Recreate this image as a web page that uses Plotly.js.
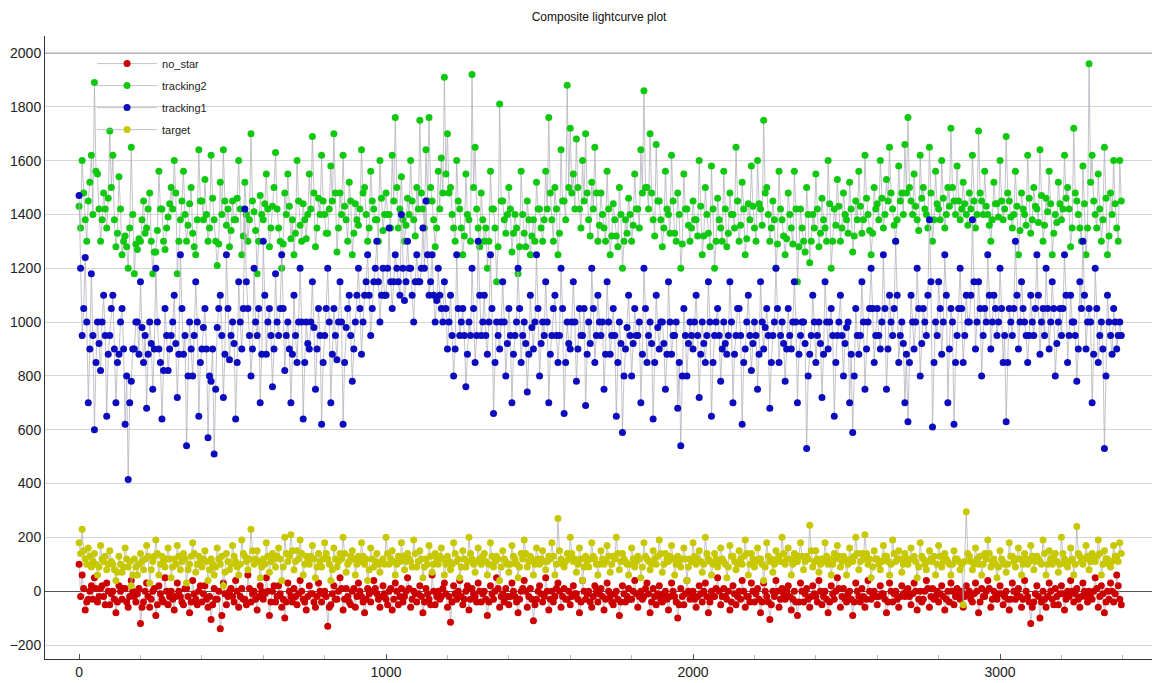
<!DOCTYPE html>
<html>
<head>
<meta charset="utf-8">
<script src="https://cdn.plot.ly/plotly-3.0.1.min.js"></script>
<style>html,body{margin:0;padding:0;background:#fff;}#chart{width:1152px;height:683px;}</style>
</head>
<body>
<div id="chart"></div>
<script>
// Values read (approximately) from the reference picture, one every 5 frames.
const frameStep = 5;

const noStar = [
100,-20,60,10,-70,-40,-30,0,20,-30,50,10,-40,-20,10,20,-20,-50,30,0,
-50,-10,0,-30,-80,-40,20,0,-30,10,10,-40,-60,-20,40,0,-20,-40,-10,10,
-120,-60,-40,0,30,-20,-60,-30,0,10,-90,-50,20,-10,-30,-40,50,0,-50,-20,
0,-30,-70,-20,30,0,-20,-40,-50,10,10,-20,-80,-40,40,-10,-30,-50,0,20,
-40,-10,20,-30,-60,-20,-105,-50,10,-30,-30,0,-140,-90,30,-10,-50,-20,0,10,
-20,-40,40,0,-60,-20,10,-30,-30,-50,60,10,-40,-10,0,-30,-70,-20,20,0,
-30,-10,50,0,-90,-40,0,20,-40,-20,20,-10,-60,-30,-100,-40,30,0,-20,-40,
10,-20,-50,-10,40,0,-30,-40,-70,-20,20,-10,-10,-40,-60,-20,30,0,-40,-10,
0,-20,-130,-60,-50,-10,20,-30,-30,0,50,10,-70,-30,10,-20,-40,-50,0,10,
-60,-20,30,0,-20,-40,-80,-30,10,-10,-40,0,40,10,-10,-30,-60,-20,20,-10,
-30,-50,0,10,-70,-30,30,0,-50,-20,10,-40,-20,0,50,10,-60,-30,0,-10,
-40,-10,20,-20,-80,-40,10,-10,-30,-50,60,0,-50,-20,0,-30,-20,10,30,-10,
-60,-20,-115,-40,20,-10,-30,0,40,-20,-50,-30,0,20,-70,-30,10,-10,-20,-40,
30,0,-40,-10,0,-30,-90,-40,20,-10,-30,0,50,10,-60,-20,-10,-40,10,-20,
-50,-20,30,0,-20,-40,-80,-30,0,10,40,0,-60,-20,10,-30,-110,-50,-30,0,
20,-10,-40,-20,50,0,-70,-30,0,-40,-20,10,30,0,-60,-20,10,-30,-30,0,
-50,-20,20,-10,-10,-30,-80,-40,40,0,-30,-10,0,-40,-60,-20,20,0,-40,-10,
10,-20,-70,-30,30,0,-20,-40,-50,-10,0,-30,-90,-40,20,-10,-40,-20,10,-30,
-30,0,40,-10,-60,-20,0,-30,-20,10,30,-10,-80,-40,10,-20,-50,-10,20,-30,
-40,-10,0,-30,-70,-20,30,0,-20,-40,-100,-50,10,-20,-50,-10,40,0,-30,-10,
0,-30,-60,-20,20,-10,-40,0,30,-20,-80,-40,0,-20,-20,10,50,0,-50,-20,
10,-20,-30,0,-70,-40,20,-10,-50,-20,0,-30,40,0,-60,-20,-20,-40,30,0,
-40,-10,10,-30,-80,-40,30,0,-20,-40,-105,-50,0,-20,40,0,-60,-30,10,-10,
-30,0,20,-20,-70,-30,0,-40,-90,-40,30,0,-40,-10,10,-30,-60,-20,20,-10,
-20,-40,40,0,-50,-20,0,-30,-80,-40,20,-10,-30,0,50,10,-60,-20,10,-30,
-40,-10,0,-30,-90,-40,30,0,-20,-40,10,-20,-60,-30,40,0,-30,-10,0,-20,
-50,-20,20,-10,-10,-30,-80,-40,30,0,-40,-10,0,-30,-60,-20,20,-10,-20,0,
10,-20,-50,-10,30,0,-70,-30,0,-40,-30,0,40,10,-60,-20,10,-30,-20,0,
-40,-10,20,-20,-70,-30,0,-40,30,0,-50,-20,10,-10,-30,0,-60,-20,20,-10,
0,-30,-40,-10,30,0,-80,-40,10,-20,-20,0,40,10,-60,-30,0,-20,-30,-10,
20,-10,-50,-20,0,-30,-70,-30,30,0,-30,-10,10,-20,-60,-30,40,0,-20,-40,
-120,-60,-40,-10,20,-20,-100,-40,0,-30,-60,-20,30,0,-30,-50,10,-20,-50,-10,
20,-10,-70,-30,0,-20,40,0,-40,-10,10,-30,-60,-20,30,0,-20,-40,0,-10,
-30,0,50,10,-60,-20,20,-10,-80,-40,0,-30,30,0,-40,-10,60,20,-30,-50
];

const tracking2 = [
1430,1350,1600,1480,1380,1300,1450,1520,1620,1400,1890,1560,1550,1420,1300,1380,1480,1420,1350,1460,
1710,1500,1620,1380,1280,1330,1540,1420,1250,1300,1320,1280,1200,1350,1650,1400,1180,1290,1270,1310,
1300,1380,1450,1330,1350,1420,1480,1300,1180,1260,1260,1340,1560,1420,1420,1300,1270,1350,1390,1440,
1500,1420,1600,1480,1180,1300,1380,1450,1560,1400,1300,1360,1440,1500,1330,1280,1250,1380,1640,1450,
1450,1380,1530,1400,1300,1350,1620,1460,1380,1300,1210,1290,1520,1400,1640,1450,1360,1420,1280,1340,
1450,1380,1380,1460,1600,1420,1250,1320,1520,1400,1300,1380,1700,1450,1410,1340,1180,1300,1470,1400,
1380,1440,1550,1420,1280,1350,1430,1500,1630,1420,1350,1300,1200,1290,1480,1400,1550,1430,1310,1380,
1250,1330,1600,1450,1360,1300,1440,1380,1310,1400,1550,1420,1690,1480,1280,1350,1460,1400,1620,1450,
1400,1330,1330,1420,1580,1450,1700,1480,1260,1350,1480,1400,1620,1430,1380,1300,1520,1450,1250,1330,
1440,1380,1360,1420,1640,1480,1500,1400,1300,1350,1560,1450,1420,1380,1380,1300,1600,1460,1340,1400,
1480,1400,1400,1350,1620,1450,1760,1500,1350,1420,1540,1380,1300,1360,1460,1400,1600,1450,1380,1320,
1500,1420,1750,1480,1420,1350,1640,1450,1760,1500,1450,1380,1280,1350,1560,1420,1610,1480,1910,1550,
1700,1480,1500,1400,1350,1300,1600,1450,1420,1350,1250,1320,1550,1400,1380,1300,1920,1500,1650,1420,
1350,1280,1480,1380,1300,1350,1200,1300,1560,1420,1420,1350,1150,1280,1810,1450,1450,1380,1330,1400,
1500,1420,1260,1330,1400,1350,1180,1280,1560,1400,1330,1280,1450,1380,1250,1320,1380,1300,1520,1420,
1420,1350,1300,1380,1560,1420,1760,1480,1380,1300,1500,1420,1250,1330,1640,1450,1450,1380,1880,1500,
1720,1480,1550,1420,1680,1500,1420,1350,1600,1450,1700,1480,1380,1320,1520,1420,1650,1480,1300,1360,
1480,1400,1350,1300,1560,1420,1250,1320,1440,1380,1320,1280,1500,1400,1200,1300,1380,1330,1460,1400,
1300,1360,1550,1420,1420,1350,1640,1480,1860,1500,1500,1420,1700,1480,1380,1320,1660,1450,1450,1380,
1280,1350,1560,1420,1400,1330,1620,1450,1330,1300,1480,1400,1200,1290,1550,1420,1420,1360,1300,1350,
1450,1380,1380,1320,1600,1430,1250,1320,1500,1400,1330,1280,1580,1420,1200,1300,1460,1380,1350,1300,
1560,1420,1280,1330,1480,1400,1400,1350,1650,1450,1300,1360,1520,1420,1250,1310,1440,1380,1580,1430,
1350,1300,1600,1440,1420,1360,1750,1480,1500,1400,1300,1350,1450,1380,1200,1290,1560,1420,1380,1320,
1250,1310,1480,1400,1350,1290,1560,1420,1150,1280,1420,1350,1300,1260,1500,1400,1220,1300,1400,1350,
1550,1420,1280,1330,1460,1380,1350,1300,1600,1440,1200,1300,1420,1360,1530,1430,1300,1350,1480,1400,
1380,1330,1520,1420,1260,1320,1450,1380,1560,1430,1330,1380,1620,1460,1400,1340,1250,1330,1500,1420,
1440,1380,1600,1460,1350,1400,1530,1450,1650,1480,1420,1360,1300,1380,1580,1450,1480,1400,1660,1480,
1760,1500,1450,1400,1550,1430,1380,1340,1620,1460,1500,1420,1400,1350,1650,1480,1300,1380,1560,1440,
1420,1380,1600,1460,1350,1400,1500,1430,1720,1500,1450,1400,1580,1450,1380,1420,1520,1440,1400,1360,
1480,1420,1620,1450,1350,1400,1710,1480,1450,1400,1560,1430,1400,1360,1300,1380,1520,1440,1440,1390,
1600,1450,1380,1420,1690,1480,1450,1390,1350,1400,1560,1430,1250,1340,1480,1420,1400,1360,1620,1460,
1330,1380,1500,1430,1420,1370,1640,1470,1300,1360,1460,1410,1560,1440,1250,1330,1400,1370,1520,1440,
1380,1420,1620,1460,1500,1420,1280,1350,1720,1480,1450,1400,1350,1300,1580,1440,1250,1350,1960,1520,
1620,1450,1400,1350,1550,1420,1300,1380,1650,1460,1250,1320,1480,1400,1600,1440,1350,1300,1600,1450
];

const tracking1 = [
1470,1200,950,1050,1240,1000,700,900,1180,950,600,850,1000,920,820,1000,1100,950,650,880,
950,1050,1100,900,700,850,880,1000,1050,900,620,800,415,700,780,900,900,1000,1000,880,
1150,980,850,950,680,880,1000,920,750,900,1200,1000,900,850,640,820,1050,950,820,900,
950,1000,1100,920,720,880,1250,1050,880,950,540,800,1000,900,800,950,1150,1000,650,850,
900,980,1050,900,570,800,780,900,510,750,980,1050,1100,950,720,880,1250,1050,860,950,
1000,920,640,850,1150,1000,900,1050,1420,1150,1050,950,800,900,1200,1000,950,1050,700,880,
1300,1100,880,1000,1050,950,760,900,1180,1000,950,1050,1250,1050,820,950,1000,900,700,880,
1100,950,850,1000,1200,1000,640,850,1000,920,900,1000,1150,980,750,900,1050,950,620,850,
950,1050,1200,1000,700,880,1050,950,860,1000,1150,1000,620,850,980,1050,1100,950,780,900,
1000,1100,1200,1050,880,1000,1100,1150,1250,1100,950,1050,1150,1200,1300,1150,1000,1100,1200,1100,
1100,1200,1350,1150,1050,1150,1250,1200,1150,1100,1400,1200,1080,1150,1300,1200,1200,1100,1000,1150,
1250,1150,1150,1200,1350,1200,1450,1250,1100,1150,1250,1100,1000,1080,1200,1100,1050,1000,1150,1050,
900,1000,1100,950,800,900,1250,1050,950,1000,1050,950,760,880,1000,950,1200,1050,850,950,
1300,1100,950,1000,1100,950,880,1000,1250,1050,660,850,1000,950,900,1000,1150,1000,800,920,
1050,950,700,880,950,1000,1200,1050,850,950,1000,920,740,880,1100,980,900,1000,1250,1050,
800,920,1000,950,1150,1000,700,880,950,1050,1100,950,850,950,1200,1050,660,850,1000,920,
900,1000,1150,1000,780,900,1050,950,950,1050,690,880,1000,920,1200,1050,850,950,1100,1000,
950,1000,750,880,1150,1000,880,950,1050,950,650,850,1000,920,590,800,900,980,1100,950,
800,920,1050,950,950,1000,700,880,1200,1050,850,950,1000,920,640,850,1100,980,900,1000,
1000,920,750,880,1150,1000,880,950,950,1000,680,850,540,800,1050,950,800,920,1000,950,
900,1000,1100,950,720,880,1000,920,850,950,1150,1000,650,850,950,1000,1050,950,780,900,
1000,920,880,950,1150,1000,700,880,950,1050,1050,950,620,850,900,1000,1100,950,820,920,
1000,950,750,880,1150,1000,900,980,1050,950,680,850,950,1000,1200,1050,850,950,1000,920,
780,900,1050,950,900,1000,1150,1000,700,880,950,1000,1000,920,530,800,880,950,1100,1000,
850,950,1000,920,720,880,1150,1000,900,1000,1050,950,650,850,950,1000,1100,950,800,920,
980,1000,700,880,590,800,1050,950,880,950,1150,1000,750,900,1000,1050,1200,1050,850,950,
1050,950,900,1000,1250,1050,750,900,1100,1000,950,1050,1300,1100,850,950,1000,920,700,880,
630,850,1100,1000,900,1000,1200,1050,800,920,1050,1000,950,1100,1380,1150,610,850,1000,950,
1150,1050,880,1000,1250,1100,700,900,1050,1000,620,850,950,1050,1200,1050,850,950,1100,1000,
1000,1100,1380,1150,900,1000,1150,1050,800,950,1050,1000,1250,1100,900,1000,1100,1050,950,1000,
1200,1050,850,950,630,850,1050,1000,950,1050,1300,1100,900,1000,1150,1050,1000,950,850,950,
1100,1000,950,1050,1250,1100,880,1000,1050,950,1200,1050,900,1000,1150,1050,800,920,1000,1050,
950,1050,1250,1100,850,950,1100,1000,1000,950,780,900,1150,1050,1300,1100,900,1000,1050,1000,
700,880,1200,1050,850,950,1000,900,530,800,1100,1000,950,880,1050,1000,900,950,1000,950
];

const target = [
180,140,230,150,120,100,160,130,90,110,140,100,60,90,170,120,110,130,80,100,
150,110,100,80,40,70,130,100,70,90,160,120,90,110,20,60,120,90,60,100,
140,110,80,120,170,130,30,80,110,130,190,140,60,100,130,110,90,120,160,120,
50,90,120,100,170,130,80,110,140,120,30,80,100,130,180,140,70,100,130,110,
90,120,150,110,40,80,120,100,60,90,160,120,100,130,20,70,140,110,80,100,
170,130,110,90,60,100,190,140,130,110,80,120,230,150,100,120,150,110,50,90,
120,100,180,130,70,110,140,120,90,130,160,120,40,90,200,140,110,130,210,150,
80,110,150,120,190,140,60,100,130,110,100,130,170,120,50,90,140,110,90,120,
180,140,120,100,40,80,160,120,90,110,140,120,200,140,70,100,110,130,150,120,
60,100,130,110,180,130,100,120,40,80,160,120,90,110,140,100,70,110,120,100,
200,140,100,120,150,110,60,100,130,110,180,130,80,110,140,120,110,90,190,140,
90,110,150,120,50,90,120,100,170,130,70,100,140,120,100,130,160,120,60,100,
130,110,80,100,180,140,110,120,50,90,150,120,90,110,200,140,120,100,70,110,
160,120,100,130,140,110,60,100,180,130,90,110,130,120,40,90,150,120,110,100,
70,100,170,130,120,100,50,90,140,120,190,140,90,110,130,120,60,100,160,120,
100,120,150,110,80,110,130,120,180,130,60,100,270,150,120,100,90,110,140,120,
200,140,110,120,70,100,160,120,40,90,130,110,90,120,180,130,120,100,60,100,
150,120,100,110,170,130,70,100,130,120,200,140,80,110,140,120,110,100,60,100,
160,120,90,110,130,120,50,90,180,130,120,110,80,100,150,120,100,130,190,140,
70,100,140,120,110,130,170,120,60,100,130,110,90,120,160,120,40,90,120,110,
180,130,100,120,150,110,70,100,200,140,120,110,60,100,140,120,90,110,160,120,
110,100,50,90,170,130,130,110,80,100,150,120,100,130,190,140,60,100,140,120,
90,110,160,120,120,100,40,90,180,130,110,120,70,100,150,120,130,110,200,140,
100,120,160,120,60,100,140,120,110,130,180,130,80,110,130,120,245,150,90,110,
150,120,70,100,120,110,180,130,100,120,60,100,140,120,170,130,90,110,130,120,
60,100,160,120,110,130,200,140,80,110,140,120,210,140,100,120,50,90,150,120,
120,100,80,110,170,130,130,110,60,100,190,140,110,120,150,120,70,100,140,120,
100,120,160,120,130,110,50,90,180,130,120,100,80,110,150,120,110,130,60,100,
170,130,90,110,140,120,110,100,60,100,150,120,120,110,80,100,-50,110,295,140,
130,110,80,100,160,120,100,130,60,100,140,120,190,140,90,110,120,100,50,90,
150,120,110,100,70,100,180,130,130,110,90,120,160,120,60,100,140,120,100,110,
170,130,80,110,130,120,110,100,190,140,60,100,150,120,100,130,140,110,70,100,
200,140,120,100,90,110,160,120,60,100,240,140,130,110,100,120,170,130,80,110,
140,120,110,130,190,140,60,100,150,120,120,100,90,110,170,130,130,110,180,140
];

const seriesNames = ['no_star', 'tracking2', 'tracking1', 'target'];
const seriesValues = [noStar, tracking2, tracking1, target];
const seriesColors = ['#cc0000', '#11c811', '#0c0cbe', '#c8c800'];

const traces = seriesNames.map((name, k) => ({
  type: 'scatter',
  mode: 'lines+markers',
  name: name,
  legendgroup: name,
  x: seriesValues[k].map((_, i) => i * frameStep),
  y: seriesValues[k],
  line: {color: 'rgba(175,175,185,0.75)', width: 1},
  marker: {color: seriesColors[k], size: 7, line: {width: 0}}
}));

const layout = {
  width: 1152, height: 683,
  paper_bgcolor: '#ffffff', plot_bgcolor: '#ffffff',
  margin: {l: 45, r: 0, t: 36, b: 24},
  font: {family: 'Liberation Sans, Arial, sans-serif', color: '#222'},
  title: {text: 'Composite lightcurve plot', x: 0.52, xanchor: 'center', y: 0.975, yanchor: 'middle',
          font: {size: 12, color: '#111'}},
  showlegend: true,
  legend: {x: 0.0425, y: 0.979, xanchor: 'left', yanchor: 'top', bgcolor: 'rgba(0,0,0,0)',
           font: {size: 11, color: '#222'}, itemwidth: 60, tracegroupgap: 3},
  xaxis: {
    range: [-111, 3495], showgrid: false, zeroline: false,
    showline: true, linecolor: '#333', linewidth: 1,
    tickmode: 'linear', tick0: 0, dtick: 1000,
    ticks: 'inside', ticklen: 5, tickcolor: '#555',
    minor: {dtick: 200, ticks: 'inside', ticklen: 4, tickcolor: '#bbb', showgrid: false},
    tickfont: {size: 14, color: '#222'}
  },
  yaxis: {
    range: [-252, 2063], showgrid: true, gridcolor: '#d6d6d6', gridwidth: 1,
    tickmode: 'linear', tick0: 0, dtick: 200,
    zeroline: true, zerolinecolor: '#555', zerolinewidth: 1,
    showline: true, linecolor: '#333', linewidth: 1,
    ticks: '', tickfont: {size: 14, color: '#222'}
  },
  shapes: [{type: 'line', xref: 'paper', x0: 0, x1: 1, yref: 'y', y0: 2000, y1: 2000,
            line: {color: '#555', width: 1}, layer: 'below'}]
};

Plotly.newPlot('chart', traces, layout, {displayModeBar: false, staticPlot: true});
</script>
</body>
</html>
